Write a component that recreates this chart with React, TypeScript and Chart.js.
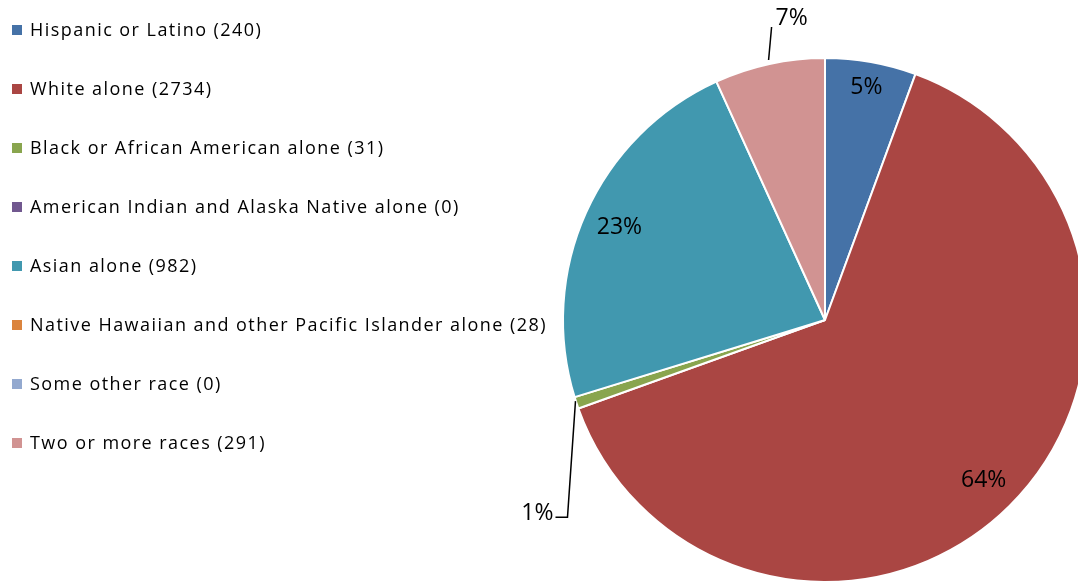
import { useEffect, useRef } from 'react';
import { Chart, registerables } from 'chart.js';

Chart.register(...registerables);

const categories = [
  'Hispanic or Latino',
  'White alone',
  'Black or African American alone',
  'American Indian and Alaska Native alone',
  'Asian alone',
  'Native Hawaiian and other Pacific Islander alone',
  'Some other race',
  'Two or more races',
];
const legendCounts = [240, 2734, 31, 0, 982, 28, 0, 291];
const sliceValues = [240, 2734, 31, 0, 982, 0, 0, 291];
const percentLabels = ['5%', '64%', '1%', '', '23%', '', '', '7%'];
const labelModes = ['inside', 'inside', 'leftLeader', '', 'inside', '', '', 'topLeader'];
const labelRadius = [0.9, 0.86, 1, 1, 0.86, 1, 1, 1];
const colors = ['#4572A7', '#AA4643', '#89A54E', '#71588F', '#4198AF', '#DB843D', '#93A9CF', '#D19392'];

const FONT = '"Open Sans", "Liberation Sans", sans-serif';

const legendPlugin = {
  id: 'sideLegend',
  afterDraw(chart: any) {
    const ctx = chart.ctx;
    ctx.save();
    ctx.font = `18px ${FONT}`;
    (ctx as any).letterSpacing = '1.45px';
    ctx.textBaseline = 'middle';
    ctx.textAlign = 'left';
    categories.forEach((name, i) => {
      const yc = 30 + i * 59;
      ctx.fillStyle = colors[i];
      ctx.fillRect(12, yc - 5, 10, 10);
      ctx.fillStyle = '#000';
      ctx.fillText(`${name} (${legendCounts[i]})`, 30, yc + 1);
    });
    ctx.restore();
  },
};

const labelPlugin = {
  id: 'sliceLabels',
  afterDatasetsDraw(chart: any) {
    const ctx = chart.ctx;
    const meta = chart.getDatasetMeta(0);
    ctx.save();
    ctx.font = `23px ${FONT}`;
    ctx.fillStyle = '#000';
    ctx.strokeStyle = '#000';
    ctx.lineWidth = 1.5;
    ctx.textBaseline = 'middle';
    meta.data.forEach((arc: any, i: number) => {
      const txt = percentLabels[i];
      if (!txt) return;
      const { x, y, startAngle, endAngle, outerRadius } = arc.getProps(
        ['x', 'y', 'startAngle', 'endAngle', 'outerRadius'],
        true
      );
      const mid = (startAngle + endAngle) / 2;
      const mode = labelModes[i];
      if (mode === 'inside') {
        const r = outerRadius * labelRadius[i];
        ctx.textAlign = 'center';
        ctx.fillText(txt, x + Math.cos(mid) * r, y + Math.sin(mid) * r);
      } else if (mode === 'topLeader') {
        const ex = x + Math.cos(mid) * (outerRadius + 4);
        const ey = y + Math.sin(mid) * (outerRadius + 4);
        const tx = ex + 3;
        const ty = ey - 33;
        ctx.beginPath();
        ctx.moveTo(ex, ey);
        ctx.lineTo(tx, ty);
        ctx.stroke();
        ctx.textAlign = 'left';
        ctx.fillText(txt, tx + 4, ty - 9);
      } else if (mode === 'leftLeader') {
        const ex = x + Math.cos(mid) * (outerRadius + 1);
        const ey = y + Math.sin(mid) * (outerRadius + 1) - 2;
        const bx = ex - 8;
        const by = ey + 116;
        ctx.beginPath();
        ctx.moveTo(ex, ey);
        ctx.lineTo(bx, by);
        ctx.lineTo(bx - 12, by);
        ctx.stroke();
        ctx.textAlign = 'right';
        ctx.fillText(txt, bx - 14, by - 4);
      }
    });
    ctx.restore();
  },
};

export default function App() {
  const ref = useRef<HTMLCanvasElement>(null);
  useEffect(() => {
    if (!ref.current) return;
    const chart = new Chart(ref.current, {
      type: 'pie',
      data: {
        labels: categories,
        datasets: [
          {
            data: sliceValues,
            backgroundColor: colors,
            borderColor: '#ffffff',
            borderWidth: 2,
          },
        ],
      },
      options: {
        animation: false,
        responsive: false,
        devicePixelRatio: 1,
        layout: { padding: { left: 562, top: 57, right: 10, bottom: 2 } },
        plugins: {
          legend: { display: false },
          tooltip: { enabled: false },
        },
      },
      plugins: [legendPlugin, labelPlugin],
    });
    return () => chart.destroy();
  }, []);
  return (
    <div
      style={{
        position: 'fixed',
        left: 0,
        top: 0,
        width: 1078,
        height: 585,
        overflow: 'hidden',
        background: '#fff',
      }}
    >
      <canvas ref={ref} width={1098} height={585} style={{ display: 'block' }} />
    </div>
  );
}
